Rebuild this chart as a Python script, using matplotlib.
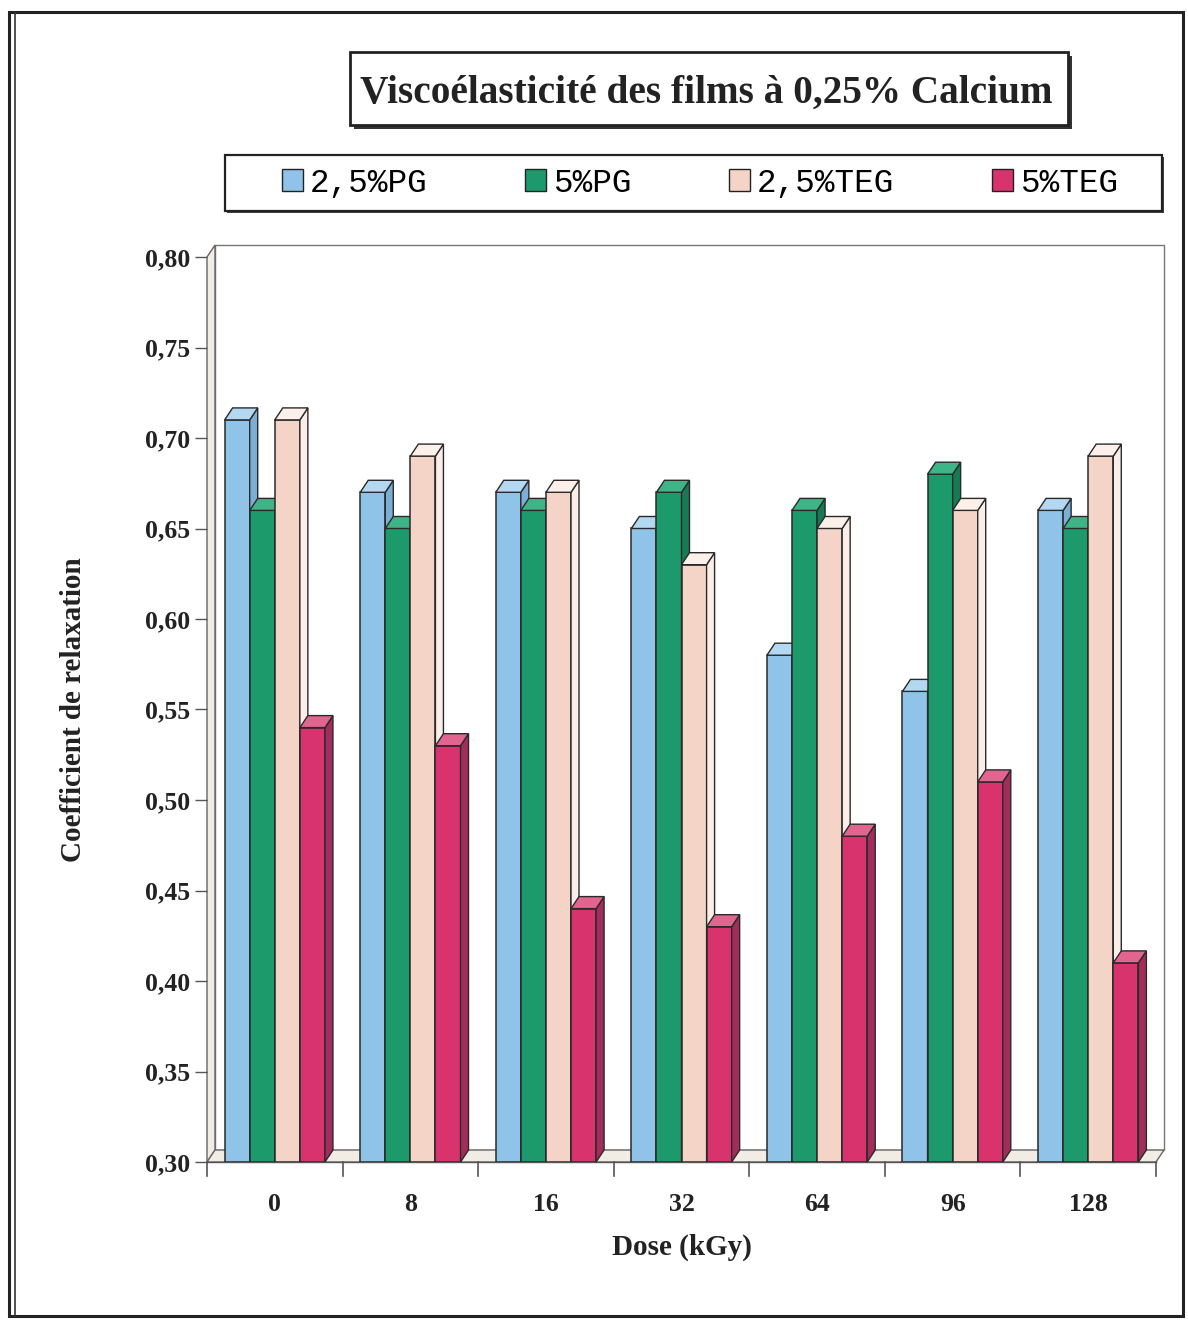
import matplotlib
matplotlib.use("Agg")
import matplotlib.pyplot as plt
from matplotlib.patches import Polygon, Rectangle, Patch
from matplotlib.lines import Line2D

# ---- data -------------------------------------------------------------
doses = ["0", "8", "16", "32", "64", "96", "128"]
series_names = ["2,5%PG", "5%PG", "2,5%TEG", "5%TEG"]
pg_25 = [0.71, 0.67, 0.67, 0.65, 0.58, 0.56, 0.66]
pg_5 = [0.66, 0.65, 0.66, 0.67, 0.66, 0.68, 0.65]
teg_25 = [0.71, 0.69, 0.67, 0.63, 0.65, 0.66, 0.69]
teg_5 = [0.54, 0.53, 0.44, 0.43, 0.48, 0.51, 0.41]
y_ticks = [0.30, 0.35, 0.40, 0.45, 0.50, 0.55, 0.60, 0.65, 0.70, 0.75, 0.80]

series_values = [pg_25, pg_5, teg_25, teg_5]

# ---- styling ----------------------------------------------------------
front_col = ["#8fc4e8", "#1c9a6c", "#f5d4c8", "#d8336c"]
side_col = ["#7aaed4", "#157a55", "#fbeee8", "#a22d5a"]
top_col = ["#b3d8f1", "#3fb486", "#fdf0ea", "#e2658f"]
edge = "#2a2a2a"
wall_col = "#f1ece4"
serif = "Liberation Serif"
mono = "Liberation Mono"

W, H = 1188, 1320
DPI = 100
fig = plt.figure(figsize=(W / DPI, H / DPI), dpi=DPI)
fig.patch.set_facecolor("white")

def fx(px):
    return px / W

def fy(py):
    return 1 - py / H

# front plane of the plotting box
left_px, right_px, top_px, bot_px = 207, 1156, 257, 1162
ax = fig.add_axes([fx(left_px), fy(bot_px), fx(right_px - left_px),
                   (bot_px - top_px) / H])
ymin, ymax = 0.30, 0.80
ax.set_xlim(-0.5, len(doses) - 0.5)
ax.set_ylim(ymin, ymax)
for s in ax.spines.values():
    s.set_visible(False)
ax.patch.set_alpha(0)

# depth of the pseudo-3D projection, converted from pixels to data units
depth_x_px, depth_y_px = 8, 12
x_per_px = (len(doses)) / (right_px - left_px)
y_per_px = (ymax - ymin) / (bot_px - top_px)
ddx = depth_x_px * x_per_px
ddy = depth_y_px * y_per_px

x0, x1 = -0.5, len(doses) - 0.5

# back wall, left wall and floor
ax.add_patch(Polygon([(x0 + ddx, ymin + ddy), (x1 + ddx, ymin + ddy),
                      (x1 + ddx, ymax + ddy), (x0 + ddx, ymax + ddy)],
                     closed=True, facecolor="white", edgecolor="#777777",
                     lw=1.0, zorder=0.5, clip_on=False))
ax.add_patch(Polygon([(x0, ymin), (x0 + ddx, ymin + ddy),
                      (x0 + ddx, ymax + ddy), (x0, ymax)],
                     closed=True, facecolor=wall_col, edgecolor="#666666",
                     lw=1.0, zorder=0.6, clip_on=False))
ax.add_patch(Polygon([(x0, ymin), (x1, ymin), (x1 + ddx, ymin + ddy),
                      (x0 + ddx, ymin + ddy)],
                     closed=True, facecolor=wall_col, edgecolor="#666666",
                     lw=1.0, zorder=0.6, clip_on=False))

# clustered 3D columns
bar_w = 0.185
n = len(series_values)
z = 2
for j in range(len(doses)):
    for i, vals in enumerate(series_values):
        v = vals[j]
        xl = j + (i - n / 2) * bar_w
        xr = xl + bar_w
        ax.bar(xl, v - ymin, bottom=ymin, width=bar_w, align="edge",
               color=front_col[i], edgecolor=edge, linewidth=1.1, zorder=z)
        ax.add_patch(Polygon([(xr, ymin), (xr + ddx, ymin + ddy),
                              (xr + ddx, v + ddy), (xr, v)], closed=True,
                             facecolor=side_col[i], edgecolor=edge,
                             lw=1.0, zorder=z, clip_on=False))
        ax.add_patch(Polygon([(xl, v), (xr, v), (xr + ddx, v + ddy),
                              (xl + ddx, v + ddy)], closed=True,
                             facecolor=top_col[i], edgecolor=edge,
                             lw=1.0, zorder=z, clip_on=False))
        z += 1

# axes ticks and labels
ax.set_yticks(y_ticks)
ax.set_yticklabels([f"{t:.2f}".replace(".", ",") for t in y_ticks],
                   fontfamily=serif, fontweight="bold", fontsize=18.5,
                   color="#222222")
ax.set_xticks(range(len(doses)))
ax.set_xticklabels(doses, fontfamily=serif, fontweight="bold",
                   fontsize=18.5, color="#222222")
ax.tick_params(axis="x", length=0, pad=22)
ax.tick_params(axis="y", length=9, width=1.0, color="#555555", pad=3)
for k in range(len(doses) + 1):
    ax.plot([k - 0.5, k - 0.5], [ymin, ymin - 0.008], color="#555555",
            lw=1.2, clip_on=False, zorder=1)
ax.plot([x0, x1], [ymin, ymin], color="#555555", lw=1.0, zorder=1,
        clip_on=False)

ax.set_xlabel("Dose (kGy)", fontfamily=serif, fontweight="bold",
              fontsize=21, color="#222222", labelpad=13)
ax.set_ylabel("Coefficient de relaxation", fontfamily=serif,
              fontweight="bold", fontsize=21, color="#222222", labelpad=42)

# title in a shadowed box
tb = (350, 52, 1068, 125)
fig.add_artist(Rectangle((fx(tb[0] + 4), fy(tb[3] + 4)),
                         fx(tb[2] - tb[0]), (tb[3] - tb[1]) / H,
                         facecolor="#333333", edgecolor="none",
                         transform=fig.transFigure))
fig.add_artist(Rectangle((fx(tb[0]), fy(tb[3])), fx(tb[2] - tb[0]),
                         (tb[3] - tb[1]) / H, facecolor="white",
                         edgecolor="#222222", lw=2.0,
                         transform=fig.transFigure))
fig.text(fx((tb[0] + tb[2]) / 2 - 3), fy((tb[1] + tb[3]) / 2 + 5),
         "Viscoélasticité des films à 0,25% Calcium", ha="center",
         va="center", fontfamily=serif, fontweight="bold", fontsize=28.3,
         color="#222222")

# legend in a box
lb = (225, 155, 1162, 211)
fig.add_artist(Rectangle((fx(lb[0] + 2), fy(lb[3] + 2)), fx(lb[2] - lb[0]),
                         (lb[3] - lb[1]) / H, facecolor="#444444",
                         edgecolor="none", transform=fig.transFigure))
fig.add_artist(Rectangle((fx(lb[0]), fy(lb[3])), fx(lb[2] - lb[0]),
                         (lb[3] - lb[1]) / H, facecolor="white",
                         edgecolor="#222222", lw=1.6,
                         transform=fig.transFigure))
handles = [Patch(facecolor=front_col[i], edgecolor="#222222", lw=1.0)
           for i in range(n)]
fig.legend(handles, series_names, loc="center",
           bbox_to_anchor=(fx(282), fy(lb[3]), fx(1118 - 282),
                           (lb[3] - lb[1]) / H),
           mode="expand", ncol=4, frameon=False, borderpad=0,
           borderaxespad=0, handlelength=0.65, handleheight=0.65,
           handletextpad=0.2, prop={"family": mono, "size": 23.5})

# outer frame
fig.add_artist(Rectangle((fx(9), fy(1316)), fx(1183 - 9), (1316 - 12) / H,
                         facecolor="none", edgecolor="#222222", lw=2.2,
                         transform=fig.transFigure))
fig.add_artist(Line2D([fx(15), fx(15)], [fy(1316), fy(12)],
                      color="#333333", lw=1.2, transform=fig.transFigure))

fig.savefig("out.png", dpi=DPI)
